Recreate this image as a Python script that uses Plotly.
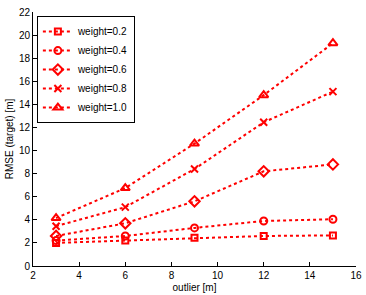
import plotly.graph_objects as go

outlier = [3, 6, 9, 12, 15]
w02 = [2.0, 2.2, 2.45, 2.6, 2.65]
w04 = [2.2, 2.6, 3.3, 3.9, 4.05]
w06 = [2.6, 3.7, 5.6, 8.2, 8.8]
w08 = [3.45, 5.1, 8.4, 12.45, 15.1]
w10 = [4.15, 6.75, 10.6, 14.8, 19.3]
names = ["weight=0.2", "weight=0.4", "weight=0.6", "weight=0.8", "weight=1.0"]
symbols = ["square-open", "circle-open", "diamond-open", "x-thin-open", "triangle-up-open"]
sizes = [6, 7, 8, 7, 8]
series = [w02, w04, w06, w08, w10]

fig = go.Figure()
for name, sym, sz, ys in zip(names, symbols, sizes, series):
    fig.add_trace(go.Scatter(
        x=outlier, y=ys, name=name, mode="lines+markers",
        line=dict(color="#ff0000", width=2, dash="dot"),
        marker=dict(symbol=sym, size=sz, color="#ff0000",
                    line=dict(color="#ff0000", width=2)),
    ))

axis_common = dict(showline=True, linecolor="black", linewidth=1, ticks="inside",
                   ticklen=4, tickcolor="black", showgrid=False, zeroline=False,
                   tickfont=dict(size=10, color="black"), mirror=False, automargin=False)
fig.update_layout(
    width=366, height=295,
    margin=dict(l=33, r=10, t=12, b=29),
    plot_bgcolor="white", paper_bgcolor="white",
    font=dict(family="Liberation Sans, Arial, sans-serif", size=10, color="black"),
    xaxis=dict(range=[2, 16], dtick=2, title=dict(text="outlier [m]", standoff=3, font=dict(size=10)), **axis_common),
    yaxis=dict(range=[0, 22], dtick=2, title=dict(text="RMSE (target) [m]", standoff=3, font=dict(size=10)), **axis_common),
    legend=dict(x=0.012, y=0.984, xanchor="left", yanchor="top",
                bordercolor="black", borderwidth=1, bgcolor="white",
                font=dict(size=10), tracegroupgap=0, itemwidth=30),
)
fig.write_html("out.html", config={"displayModeBar": False},
               post_script="document.body.style.margin='0px';document.body.style.overflow='hidden';")
